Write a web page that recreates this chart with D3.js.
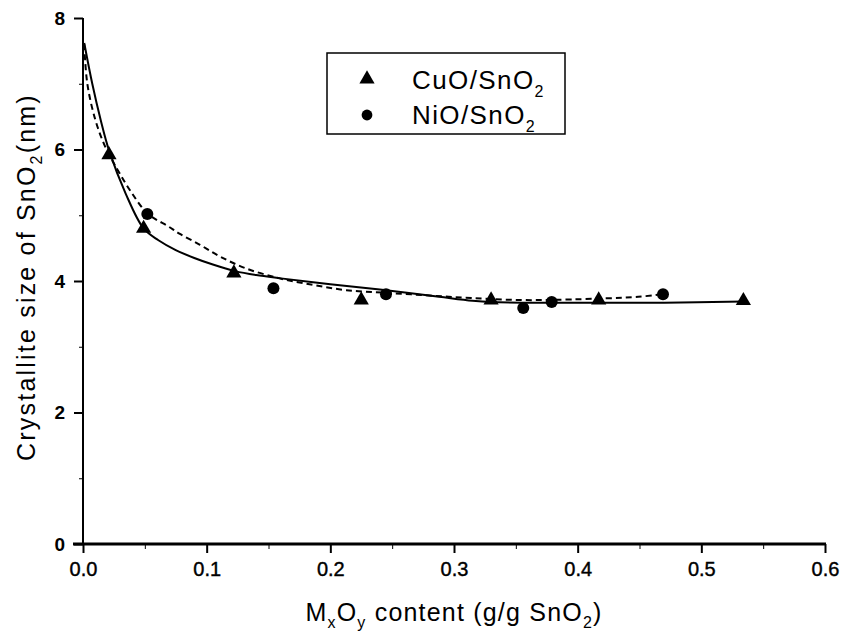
<!DOCTYPE html>
<html>
<head>
<meta charset="utf-8">
<script src="https://cdn.jsdelivr.net/npm/d3@7"></script>
<style>
  body { margin: 0; background: #fff; }
  svg { display: block; font-family: "Liberation Sans", Arial, sans-serif; }
</style>
</head>
<body>
<div id="chart"></div>
<script>
// measured points
var cuoX = [0.021, 0.049, 0.122, 0.225, 0.330, 0.417, 0.534];
var cuoY = [5.92, 4.80, 4.12, 3.71, 3.71, 3.71, 3.70];
var nioX = [0.052, 0.154, 0.245, 0.356, 0.379, 0.469];
var nioY = [5.02, 3.89, 3.80, 3.59, 3.68, 3.80];

// fitted curves
var cuoFitX = [0.001, 0.0075, 0.0143, 0.021, 0.0345, 0.049, 0.061, 0.075, 0.09, 0.105, 0.123, 0.14, 0.16, 0.20, 0.24, 0.288, 0.315, 0.33, 0.379, 0.417, 0.47, 0.534];
var cuoFitY = [7.62, 7.0, 6.45, 5.99, 5.33, 4.80, 4.62, 4.47, 4.35, 4.25, 4.15, 4.09, 4.04, 3.95, 3.87, 3.76, 3.70, 3.68, 3.67, 3.67, 3.67, 3.69];
var nioFitX = [0.001, 0.0035, 0.010, 0.018, 0.028, 0.038, 0.052, 0.069, 0.078, 0.0946, 0.111, 0.132, 0.159, 0.186, 0.213, 0.245, 0.28, 0.314, 0.355, 0.395, 0.449, 0.469];
var nioFitY = [7.6, 7.0, 6.45, 6.04, 5.69, 5.38, 5.03, 4.83, 4.72, 4.55, 4.37, 4.19, 4.04, 3.94, 3.86, 3.82, 3.78, 3.74, 3.71, 3.72, 3.76, 3.80];

var xTicks = [0, 0.1, 0.2, 0.3, 0.4, 0.5, 0.6];
var xMinor = [0.05, 0.15, 0.25, 0.35, 0.45, 0.55];
var yTicks = [0, 2, 4, 6, 8];
var yMinor = [1, 3, 5, 7];

var W = 842, H = 634;
var margin = {top: 18, right: 17, bottom: 90, left: 83};
var width = W - margin.left - margin.right;
var height = H - margin.top - margin.bottom;

var svg = d3.select("#chart").append("svg")
  .attr("width", W).attr("height", H);
var g = svg.append("g")
  .attr("transform", "translate(" + margin.left + "," + margin.top + ")");

var x = d3.scaleLinear().domain([0, 0.6]).range([0, width]);
var y = d3.scaleLinear().domain([0, 8]).range([height, 0]);

// x axis, major + minor ticks
var xAxis = g.append("g")
  .attr("transform", "translate(0," + height + ")")
  .call(d3.axisBottom(x).tickValues(xTicks).tickFormat(d3.format(".1f")).tickSize(9).tickPadding(9));
g.append("g")
  .attr("transform", "translate(0," + height + ")")
  .call(d3.axisBottom(x).tickValues(xMinor).tickFormat("").tickSize(5))
  .select(".domain").remove();
xAxis.select(".domain").attr("stroke-width", 3).attr("d", "M-10,0H" + (width + 1));
xAxis.selectAll(".tick line").attr("stroke-width", 2);
xAxis.selectAll("text")
  .attr("font-size", 20).attr("fill", "#000")
  .attr("stroke", "#000").attr("stroke-width", 0.4)
  .attr("font-family", "Liberation Sans, Arial, sans-serif");

// y axis
var yAxis = g.append("g")
  .call(d3.axisLeft(y).tickValues(yTicks).tickFormat(d3.format("d")).tickSize(9).tickPadding(9));
g.append("g")
  .call(d3.axisLeft(y).tickValues(yMinor).tickFormat("").tickSize(4))
  .select(".domain").remove();
yAxis.select(".domain").attr("stroke-width", 2).attr("d", "M0," + height + "V0");
yAxis.selectAll(".tick line").attr("stroke-width", 2);
yAxis.selectAll("text")
  .attr("font-size", 19).attr("font-weight", "bold").attr("fill", "#000")
  .attr("font-family", "Liberation Sans, Arial, sans-serif");
g.selectAll(".tick line").attr("stroke", "#000");

// curves
var line = d3.line()
  .x(function(d) { return x(d[0]); })
  .y(function(d) { return y(d[1]); })
  .curve(d3.curveCatmullRom.alpha(0.5));

g.append("path")
  .datum(cuoFitX.map(function(v, i) { return [v, cuoFitY[i]]; }))
  .attr("d", line)
  .attr("fill", "none").attr("stroke", "#000").attr("stroke-width", 2);

g.append("path")
  .datum(nioFitX.map(function(v, i) { return [v, nioFitY[i]]; }))
  .attr("d", line)
  .attr("fill", "none").attr("stroke", "#000").attr("stroke-width", 2)
  .attr("stroke-dasharray", "6,4");

// markers
var tri = d3.symbol().type(d3.symbolTriangle).size(100);
g.selectAll(".cuo")
  .data(cuoX.map(function(v, i) { return [v, cuoY[i]]; }))
  .enter().append("path")
    .attr("class", "cuo")
    .attr("d", tri)
    .attr("transform", function(d) { return "translate(" + x(d[0]) + "," + y(d[1]) + ")"; })
    .attr("fill", "#000");

g.selectAll(".nio")
  .data(nioX.map(function(v, i) { return [v, nioY[i]]; }))
  .enter().append("circle")
    .attr("class", "nio")
    .attr("cx", function(d) { return x(d[0]); })
    .attr("cy", function(d) { return y(d[1]); })
    .attr("r", 6)
    .attr("fill", "#000");

// axis titles
var xt = svg.append("text")
  .attr("x", 454).attr("y", 621)
  .attr("text-anchor", "middle")
  .attr("font-size", 25).attr("letter-spacing", 1.2);
xt.append("tspan").text("M");
xt.append("tspan").attr("dy", 7).attr("font-size", 16).text("x");
xt.append("tspan").attr("dy", -7).text("O");
xt.append("tspan").attr("dy", 7).attr("font-size", 16).text("y");
xt.append("tspan").attr("dy", -7).text(" content (g/g SnO");
xt.append("tspan").attr("dy", 7).attr("font-size", 16).text("2");
xt.append("tspan").attr("dy", -7).text(")");

var yt = svg.append("text")
  .attr("transform", "translate(35,277) rotate(-90)")
  .attr("text-anchor", "middle")
  .attr("font-size", 25).attr("letter-spacing", 2.2);
yt.append("tspan").text("Crystallite size of SnO");
yt.append("tspan").attr("dy", 7).attr("font-size", 16).text("2");
yt.append("tspan").attr("dy", -7).text("(nm)");

// legend
var leg = svg.append("g");
leg.append("rect")
  .attr("x", 327).attr("y", 53).attr("width", 238).attr("height", 81)
  .attr("fill", "#fff").attr("stroke", "#000").attr("stroke-width", 1.5);
leg.append("path")
  .attr("d", tri).attr("transform", "translate(367,79)").attr("fill", "#000");
leg.append("circle")
  .attr("cx", 367).attr("cy", 115).attr("r", 5.4).attr("fill", "#000");
var legNames = ["CuO/SnO", "NiO/SnO"];
var legBase = [89, 124];
legNames.forEach(function(n, i) {
  var t = leg.append("text")
    .attr("x", 412).attr("y", legBase[i])
    .attr("font-size", 26).attr("letter-spacing", 1.4);
  t.append("tspan").text(n);
  t.append("tspan").attr("dy", 8).attr("font-size", 16).text("2");
});
</script>
</body>
</html>
